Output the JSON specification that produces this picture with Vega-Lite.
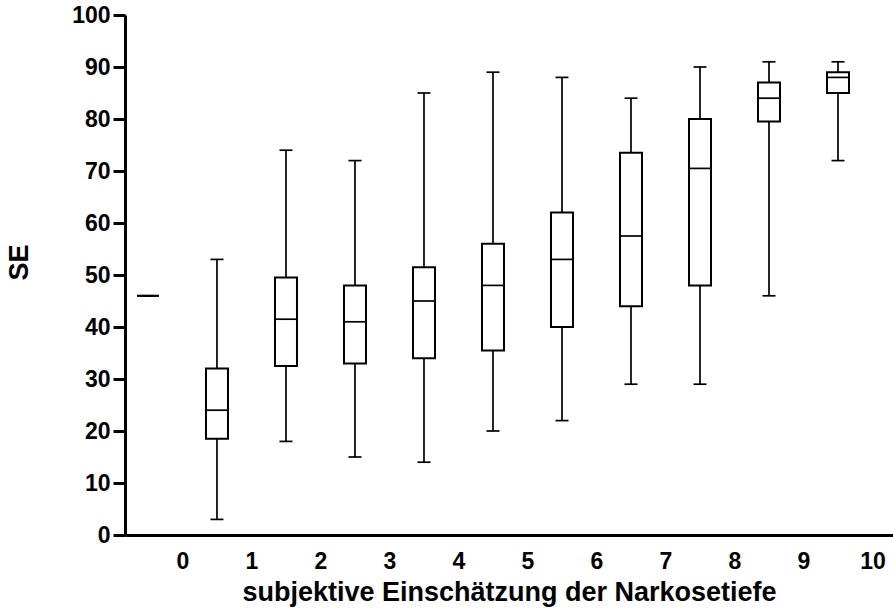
{
  "$schema": "https://vega.github.io/schema/vega-lite/v6.json",
  "width": 768,
  "height": 520,
  "autosize": "none",
  "padding": {"left": 125, "top": 15, "right": 0, "bottom": 75},
  "background": "white",
  "config": {
    "view": {"stroke": null},
    "font": "Liberation Sans",
    "axis": {"grid": false, "domainColor": "black", "domainWidth": 3, "tickColor": "black", "labelColor": "black", "titleColor": "black", "labelFont": "Liberation Sans", "titleFont": "Liberation Sans", "labelFontWeight": "bold", "titleFontWeight": "bold"}
  },
  "data": {
    "values": [
      {"Narkosetiefe": 0, "min": 46, "q1": 46, "median": 46, "q3": 46, "max": 46},
      {"Narkosetiefe": 1, "min": 3, "q1": 18.5, "median": 24, "q3": 32, "max": 53},
      {"Narkosetiefe": 2, "min": 18, "q1": 32.5, "median": 41.5, "q3": 49.5, "max": 74},
      {"Narkosetiefe": 3, "min": 15, "q1": 33, "median": 41, "q3": 48, "max": 72},
      {"Narkosetiefe": 4, "min": 14, "q1": 34, "median": 45, "q3": 51.5, "max": 85},
      {"Narkosetiefe": 5, "min": 20, "q1": 35.5, "median": 48, "q3": 56, "max": 89},
      {"Narkosetiefe": 6, "min": 22, "q1": 40, "median": 53, "q3": 62, "max": 88},
      {"Narkosetiefe": 7, "min": 29, "q1": 44, "median": 57.5, "q3": 73.5, "max": 84},
      {"Narkosetiefe": 8, "min": 29, "q1": 48, "median": 70.5, "q3": 80, "max": 90},
      {"Narkosetiefe": 9, "min": 46, "q1": 79.5, "median": 84, "q3": 87, "max": 91},
      {"Narkosetiefe": 10, "min": 72, "q1": 85, "median": 88, "q3": 89, "max": 91}
    ]
  },
  "encoding": {
    "x": {
      "field": "Narkosetiefe",
      "type": "quantitative",
      "scale": {"domain": [-0.333, 10.797], "nice": false, "zero": false, "padding": 0},
      "axis": {
        "title": "subjektive Einschätzung der Narkosetiefe",
        "values": [0.5, 1.5, 2.5, 3.5, 4.5, 5.5, 6.5, 7.5, 8.5, 9.5, 10.5],
        "labelExpr": "floor(datum.value)",
        "ticks": false,
        "tickSize": 0,
        "labelPadding": 15,
        "labelFontSize": 23,
        "titleFontSize": 27,
        "titlePadding": 6,
        "labelFlush": false
      }
    }
  },
  "layer": [
    {
      "mark": {"type": "rule", "color": "black", "strokeWidth": 1.7},
      "encoding": {
        "y": {
          "field": "min",
          "type": "quantitative",
          "scale": {"domain": [0, 100], "nice": false},
          "axis": {
            "title": "SE",
            "values": [0, 10, 20, 30, 40, 50, 60, 70, 80, 90, 100],
            "tickSize": 12,
            "tickWidth": 3,
            "labelPadding": 3,
            "labelFontSize": 23,
            "titleFontSize": 27,
            "titlePadding": 38,
            "titleY": 247
          }
        },
        "y2": {"field": "max"}
      }
    },
    {
      "mark": {"type": "bar", "width": 22, "fill": "white", "stroke": "black", "strokeWidth": 2},
      "encoding": {
        "y": {"field": "q1", "type": "quantitative"},
        "y2": {"field": "q3"}
      }
    },
    {
      "mark": {"type": "tick", "orient": "horizontal", "size": 22, "thickness": 1.7, "color": "black", "opacity": 1},
      "encoding": {"y": {"field": "median", "type": "quantitative"}}
    },
    {
      "mark": {"type": "tick", "orient": "horizontal", "size": 13, "thickness": 1.7, "color": "black", "opacity": 1},
      "encoding": {"y": {"field": "min", "type": "quantitative"}}
    },
    {
      "mark": {"type": "tick", "orient": "horizontal", "size": 13, "thickness": 1.7, "color": "black", "opacity": 1},
      "encoding": {"y": {"field": "max", "type": "quantitative"}}
    }
  ]
}
